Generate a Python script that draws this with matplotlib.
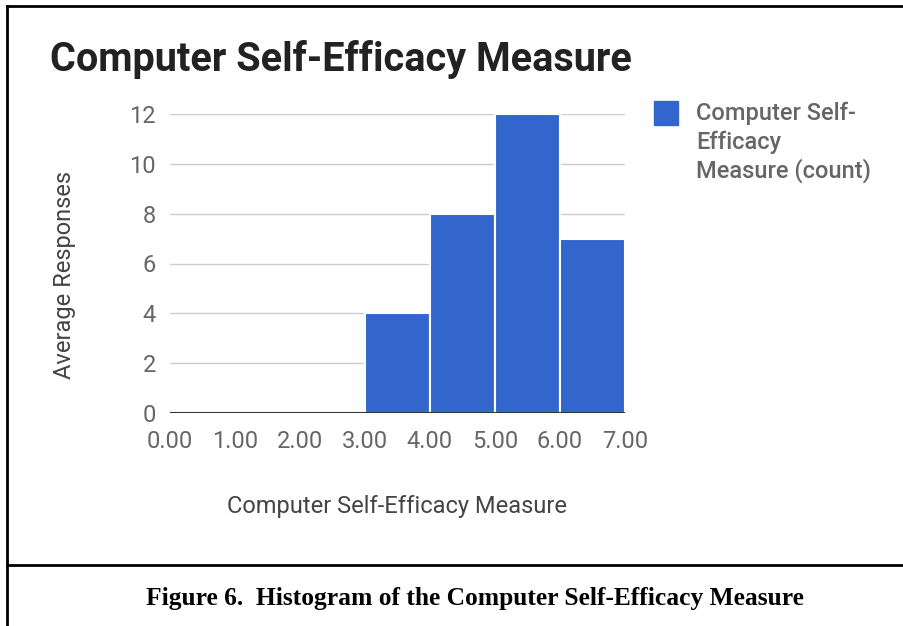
import matplotlib.pyplot as plt
from matplotlib.lines import Line2D

bin_edges = [3, 4, 5, 6]
counts = [4, 8, 12, 7]
x_ticks = [0, 1, 2, 3, 4, 5, 6, 7]
x_labels = ['0.00', '1.00', '2.00', '3.00', '4.00', '5.00', '6.00', '7.00']
y_ticks = [0, 2, 4, 6, 8, 10, 12]

plt.rcParams['font.family'] = ['Roboto', 'DejaVu Sans']

W, H = 904, 626
fig = plt.figure(figsize=(W / 100, H / 100), dpi=100)
fig.patch.set_facecolor('white')

# axes placed in pixel terms
ax = fig.add_axes([170 / W, 1 - 413 / H, (625 - 170) / W, (413 - 114) / H])
ax.bar(bin_edges, counts, width=1, align='edge', color='#3366cc',
       edgecolor='white', linewidth=1.5, zorder=3)
ax.set_xlim(0, 7)
ax.set_ylim(0, 12)
ax.set_yticks(y_ticks)
ax.set_xticks(x_ticks)
ax.set_xticklabels(x_labels)
ax.grid(axis='y', color='#cccccc', linewidth=1, zorder=0)
ax.axhline(0, color='#333333', linewidth=1.5, zorder=4)
for s in ax.spines.values():
    s.set_visible(False)
ax.tick_params(length=0, labelsize=17, labelcolor='#666666')
ax.tick_params(axis='x', pad=12)
ax.tick_params(axis='y', pad=10)
ax.set_xlabel('Computer Self-Efficacy Measure', fontsize=17, color='#444444')
ax.set_ylabel('Average Responses', fontsize=17, color='#444444')
ax.xaxis.set_label_coords(0.5, -(506 - 413) / 299)
ax.xaxis.label.set_va('center')
ax.yaxis.set_label_coords((65 - 170) / 455, 0.46)
ax.yaxis.label.set_va('center')

fig.text(50 / W, 1 - 71 / H, 'Computer Self-Efficacy Measure', fontsize=28.5,
         fontweight='bold', color='#222222', ha='left', va='baseline')

# legend
fig.patches.append(plt.Rectangle((654 / W, 1 - 125 / H), 24 / W, 24 / H,
                                 transform=fig.transFigure, color='#3366cc'))
fig.text(696 / W, 1 - 102 / H, 'Computer Self-\nEfficacy\nMeasure (count)', fontsize=17,
         fontweight='medium', color='#666666', ha='left', va='top', linespacing=1.27)

# frame lines and caption
fig.add_artist(Line2D([7 / W, 7 / W], [0, 1 - 6 / H], color='black', linewidth=2))
fig.add_artist(Line2D([7 / W, 1], [1 - 6 / H, 1 - 6 / H], color='black', linewidth=2))
fig.add_artist(Line2D([7 / W, 1], [1 - 565 / H, 1 - 565 / H], color='black', linewidth=2))
fig.text(475 / W, 1 - 599 / H, 'Figure 6.  Histogram of the Computer Self-Efficacy Measure',
         fontsize=18.4, fontweight='bold', family='Liberation Serif', ha='center', va='center')

fig.savefig('out.png', dpi=100, facecolor='white')
